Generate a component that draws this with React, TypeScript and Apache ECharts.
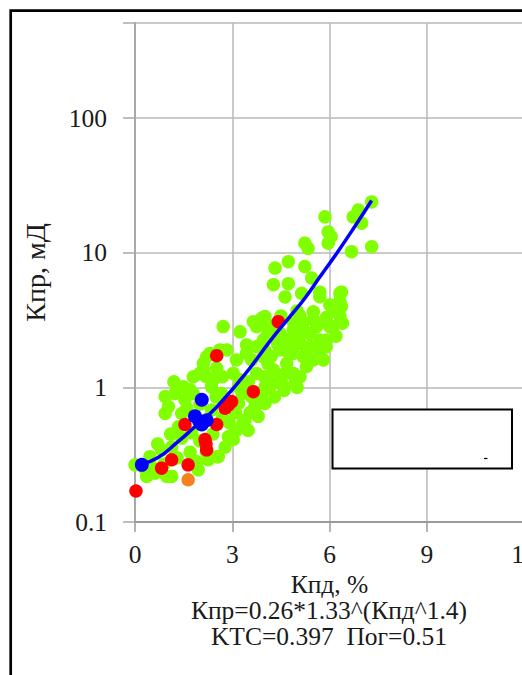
import React, { useEffect, useRef } from "react";
import * as echarts from "echarts";

const xTicks = [0, 3, 6, 9, 12];
const yLabels = ["0.1", "1", "10", "100"];

const greenPoints: [number, number][] = [
  [7.3, 23.9], [6.89, 20.8], [6.73, 18.5], [6.99, 16.6], [5.86, 18.5], [5.96, 14.3], [6.05, 13.2], [5.96, 11.8],
  [5.24, 11.8], [5.34, 10.8], [6.68, 10.2], [7.3, 11.1], [4.32, 7.7], [4.73, 8.6], [5.24, 7.9], [5.45, 6.5],
  [4.27, 5.8], [4.73, 5.9], [5.14, 5.0], [5.7, 5.1], [6.37, 5.1], [4.63, 4.7], [6.01, 4.1], [6.37, 4.0],
  [6.32, 3.4], [5.5, 3.65], [5.09, 3.4], [3.91, 3.26], [3.75, 2.83], [2.72, 2.83], [3.24, 2.59], [4.06, 2.38],
  [4.47, 2.52], [4.88, 2.67], [5.19, 3.0], [5.6, 2.83], [5.7, 2.25], [5.4, 2.01], [5.7, 1.9], [5.09, 2.13],
  [4.88, 1.79], [5.19, 1.69], [4.47, 1.9], [4.68, 1.51], [4.27, 1.35], [3.75, 2.01], [3.44, 1.79], [3.13, 1.6],
  [2.11, 1.51], [2.0, 1.27], [2.83, 1.9], [2.31, 1.79], [2.52, 1.39], [3.03, 1.27], [6.11, 2.83], [6.32, 4.34],
  [3.65, 3.08], [4.01, 3.36], [5.7, 4.72], [6.32, 5.0], [6.01, 2.83], [5.91, 2.25], [5.81, 1.6], [5.29, 1.43],
  [4.88, 1.27], [4.47, 1.14], [4.16, 1.01], [2.62, 1.9], [2.21, 1.69], [2.11, 1.35], [1.8, 1.2], [2.41, 1.14],
  [3.24, 1.14], [3.75, 1.27], [3.96, 1.69], [4.78, 2.13], [3.96, 2.25], [3.44, 2.07], [5.7, 3.0],
  [4.3, 2.9], [4.9, 3.0], [5.4, 2.5], [4.2, 1.7], [4.6, 2.3],
  [4.1, 2.7], [4.4, 2.1], [4.9, 2.4], [5.2, 2.6], [5.5, 3.2], [5.0, 3.7], [4.5, 3.4], [5.9, 3.3], [6.1, 3.7],
  [4.7, 1.85], [5.3, 1.9], [5.5, 1.6], [4.1, 1.5], [3.6, 1.6], [4.0, 1.9], [5.9, 2.0], [6.2, 2.4], [6.4, 3.0],
  [1.23, 0.9], [1.7, 0.96], [2.36, 1.01], [2.67, 0.9], [3.19, 1.01], [4.01, 1.01], [4.52, 1.07], [4.93, 1.07],
  [1.03, 0.72], [1.44, 0.64], [0.93, 0.64], [3.19, 0.76], [3.7, 0.72], [4.01, 0.76], [3.8, 0.61], [3.39, 0.57],
  [3.08, 0.48], [3.49, 0.48], [2.88, 0.43], [2.78, 0.36], [2.57, 0.306], [2.26, 0.29], [1.95, 0.244], [1.13, 0.218],
  [0.62, 0.231], [0.0, 0.266], [0.46, 0.306], [0.82, 0.344], [1.13, 0.36], [1.44, 0.42], [1.75, 0.46], [1.34, 0.51],
  [0.93, 0.855], [1.54, 0.81], [2.36, 0.68], [1.49, 1.01], [3.33, 0.54], [3.55, 0.65], [3.85, 0.77], [4.26, 1.08],
  [5.09, 1.2], [5.0, 1.0], [3.13, 0.48], [3.03, 0.41], [2.52, 0.306], [0.98, 0.218], [0.36, 0.218],
  [4.6, 0.95], [4.3, 0.85], [3.9, 0.9], [3.6, 0.85], [4.6, 1.25], [4.0, 1.2], [3.5, 1.1],
  [1.6, 0.7], [2.0, 0.75], [2.5, 0.85], [2.7, 0.6], [2.4, 0.45], [2.0, 0.4], [1.7, 0.33], [1.3, 0.3],
  [0.9, 0.27], [0.5, 0.26], [0.3, 0.25], [1.9, 0.28], [2.2, 0.33], [2.9, 0.55], [3.1, 0.65], [1.1, 0.45],
  [0.7, 0.38], [1.8, 0.9], [1.2, 1.1], [2.7, 1.2], [2.2, 1.2], [3.3, 0.9],
];

const redPoints: [number, number][] = [
  [4.42, 3.08], [2.52, 1.72], [3.65, 0.93], [2.98, 0.785], [2.88, 0.74], [2.78, 0.7], [1.54, 0.53], [2.52, 0.53],
  [2.16, 0.41], [2.19, 0.38], [2.21, 0.344], [1.13, 0.29], [0.82, 0.251], [1.64, 0.266], [0.03, 0.17],
];

const orangePoints: [number, number][] = [[1.64, 0.206]];

const bluePoints: [number, number][] = [
  [0.21, 0.266], [2.06, 0.81], [1.85, 0.61], [2.06, 0.53], [2.21, 0.57], [1.98, 0.56],
];

const fitLine: [number, number][] = [
  [0.21, 0.27], [0.7, 0.3], [1.3, 0.39], [1.85, 0.51], [2.35, 0.65], [2.8, 0.85], [3.2, 1.1], [3.6, 1.45],
  [4.16, 2.2], [4.78, 3.36], [5.24, 4.6], [5.7, 6.6], [6.22, 9.9], [6.78, 15.7], [7.3, 24.5],
];

const xTitle = "Кпд, %";
const yTitle = "Кпр, мД";
const formulaText = "Кпр=0.26*1.33^(Кпд^1.4)";
const statsText = "KTC=0.397  Пог=0.51";

const FONT = "Liberation Serif";
const FS = 25.5;
const LH = 23;
const TXT = "#1a1a1a";

const CHART_W = 570;

export default function App() {
  const ref = useRef<HTMLDivElement>(null);
  useEffect(() => {
    if (!ref.current) return;
    const chart = echarts.init(ref.current, null, { renderer: "svg" });
    chart.setOption({
      animation: false,
      backgroundColor: "#ffffff",
      textStyle: { fontFamily: FONT },
      grid: { left: 135, top: 23, right: CHART_W - 524, bottom: 153, outerBoundsMode: "none", containLabel: false },
      xAxis: {
        type: "value",
        min: xTicks[0],
        max: xTicks[xTicks.length - 1],
        interval: 3,
        name: xTitle,
        nameLocation: "middle",
        nameGap: 50,
        nameTextStyle: { fontFamily: FONT, fontSize: FS, lineHeight: LH, color: TXT },
        axisLine: { show: true, onZero: false, lineStyle: { color: "#9a9a9a", width: 2 } },
        axisTick: { show: true, length: 10, lineStyle: { color: "#9a9a9a", width: 1.5 } },
        axisLabel: { margin: 19, fontFamily: FONT, fontSize: FS, color: TXT },
        splitLine: { show: true, lineStyle: { color: "#b8b8b8", width: 1.5 } },
      },
      yAxis: {
        type: "log",
        logBase: 10,
        min: 0.1,
        max: 510,
        splitNumber: 3,
        name: yTitle,
        nameLocation: "middle",
        nameGap: 86,
        nameRotate: 90,
        nameTextStyle: { fontFamily: FONT, fontSize: 28, color: TXT },
        axisLine: { show: true, lineStyle: { color: "#a8a8a8", width: 2 } },
        axisTick: { show: true, length: 12, lineStyle: { color: "#a8a8a8", width: 1.5 } },
        axisLabel: {
          margin: 28,
          fontFamily: FONT,
          fontSize: FS,
          color: TXT,
          formatter: (v: number) => {
            const idx = yLabels.findIndex((s) => Math.abs(parseFloat(s) - v) / parseFloat(s) < 0.01);
            return idx >= 0 ? yLabels[idx] : "";
          },
        },
        splitLine: { show: true, lineStyle: { color: "#b8b8b8", width: 1.5 } },
      },
      series: [
        { type: "scatter", data: greenPoints, symbolSize: 13.5, itemStyle: { color: "#80ff00", opacity: 1 }, z: 2 },
        { type: "scatter", data: redPoints, symbolSize: 13.5, itemStyle: { color: "#ff0000", opacity: 1 }, z: 3 },
        { type: "scatter", data: orangePoints, symbolSize: 13.5, itemStyle: { color: "#f5821f", opacity: 1 }, z: 3 },
        {
          type: "line",
          data: fitLine,
          smooth: true,
          showSymbol: false,
          symbol: "none",
          lineStyle: { color: "#0000ff", width: 3.5 },
          z: 4,
        },
        { type: "scatter", data: bluePoints, symbolSize: 14, itemStyle: { color: "#0000ff", opacity: 1 }, z: 5 },
      ],
      graphic: [
        {
          type: "rect",
          shape: { x: 10.7, y: 10.7, width: 700, height: 800 },
          style: { fill: "none", stroke: "#000", lineWidth: 2.7 },
          z: 100,
        },
        {
          type: "rect",
          shape: { x: 332.5, y: 409.5, width: 179.5, height: 59 },
          style: { fill: "#fff", stroke: "#000", lineWidth: 2 },
          z: 100,
        },
        {
          type: "line",
          shape: { x1: 484, y1: 458.5, x2: 487.5, y2: 458.5 },
          style: { stroke: "#000", lineWidth: 1.2 },
          z: 101,
        },
        {
          type: "text",
          x: 329,
          y: 610,
          style: { text: formulaText, fontFamily: FONT, fontSize: FS, lineHeight: LH, fill: TXT, align: "center", verticalAlign: "middle" },
          z: 100,
        },
        {
          type: "text",
          x: 329,
          y: 636,
          style: { text: statsText, fontFamily: FONT, fontSize: FS, lineHeight: LH, fill: TXT, align: "center", verticalAlign: "middle" },
          z: 100,
        },
      ],
    });
    return () => chart.dispose();
  }, []);
  return (
    <div style={{ position: "absolute", left: 0, top: 0, width: 522, height: 675, overflow: "hidden", background: "#fff" }}>
      <div ref={ref} style={{ width: CHART_W, height: 675 }} />
    </div>
  );
}
